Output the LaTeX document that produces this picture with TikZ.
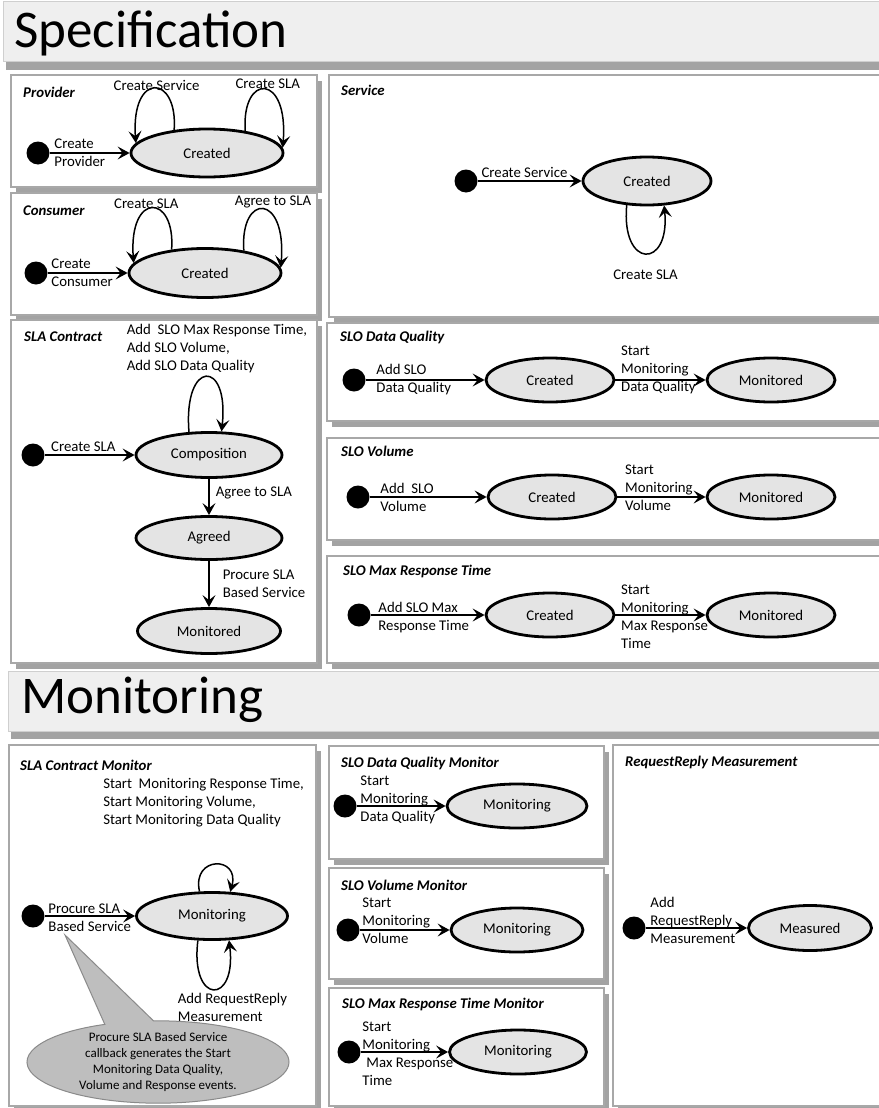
\documentclass[tikz,border=0pt]{standalone}
\usepackage{fontspec}
\setmainfont{Carlito}
\usepackage{tikz}
\usetikzlibrary{arrows.meta, positioning, shapes.geometric, shapes.callouts, shadows}
\definecolor{StateGray}{HTML}{E4E4E4}
\definecolor{PanelLine}{HTML}{A8A8A8}
\definecolor{BarFill}{HTML}{EFEFEF}
\definecolor{BarLine}{HTML}{CFCFCF}
\definecolor{NoteFill}{HTML}{BEBEBE}
\definecolor{NoteLine}{HTML}{8A8A8A}

\begin{document}
\begin{tikzpicture}[x=1pt, y=1pt,
    font=\fontsize{14.8}{18}\selectfont,
    panel/.style={draw=PanelLine, line width=1.5pt, fill=white,
        drop shadow={shadow xshift=5pt, shadow yshift=-6pt, fill=black!45, opacity=.8}},
    bar/.style={draw=BarLine, line width=1pt, fill=BarFill,
        drop shadow={shadow xshift=3pt, shadow yshift=-8pt, fill=black!45, opacity=.8}},
    bigtitle/.style={anchor=base west, inner sep=0pt, font=\fontsize{53}{60}\selectfont},
    head/.style={anchor=west, inner sep=0pt, font=\fontsize{14.8}{17}\selectfont\bfseries\itshape},
    state/.style={ellipse, draw, line width=2.8pt, fill=StateGray, inner sep=0pt},
    init/.style={circle, fill=black, minimum size=23pt, inner sep=0pt},
    trans/.style={line width=1.5pt, -{Stealth[length=12pt, width=13pt, inset=5pt]}},
    lbl/.style={align=left, inner sep=0pt},
    note/.style={ellipse callout, draw=NoteLine, line width=1pt, fill=NoteFill, align=center,
        inner sep=0pt, minimum width=262pt, minimum height=80pt, callout pointer arc=22,
        font=\fontsize{13}{15.7}\selectfont}]

    \useasboundingbox (0,0) rectangle (878,-1108);

    % Section bars
    \draw[bar] (3,-2) rectangle (884,-62);
    \node[bigtitle] (spectitle) at (14,-48) {Specification};
    \draw[bar] (8,-671) rectangle (884,-731);
    \node[bigtitle] (montitle) at (21,-713) {Monitoring};

    % Panels
    \draw[panel] (11,-75) rectangle (317,-187);
    \draw[panel] (11,-193) rectangle (317,-315);
    \draw[panel] (329,-75) rectangle (884,-317);
    \draw[panel] (11,-320) rectangle (317,-663);
    \draw[panel] (327,-323) rectangle (884,-421);
    \draw[panel] (327,-438) rectangle (884,-540);
    \draw[panel] (327,-556) rectangle (884,-663);
    \draw[panel] (9,-745) rectangle (316,-1106);
    \draw[panel] (329,-746) rectangle (604,-859);
    \draw[panel] (329,-868) rectangle (604,-979);
    \draw[panel] (329,-988) rectangle (604,-1106);
    \draw[panel] (613,-745) rectangle (884,-1106);

    % Provider
    \node[head] at (23,-92) {Provider};
    \node[init] (pi) at (38,-153) {};
    \node[state, minimum width=152pt, minimum height=48pt] (pc) at (207,-153) {Created};
    \draw[trans] (pi) -- node[lbl, pos=0, anchor=west, xshift=4pt] {Create\\Provider} (pc);
    \draw[trans] (pc.145) .. controls +(4,56) and +(-5,72) .. node[pos=.5, xshift=2pt, yshift=3pt] {Create Service} (pc.172);
    \draw[trans] (pc.30) .. controls +(-4,58) and +(6,75) .. node[pos=.5, xshift=3pt, yshift=6pt] {Create SLA} (pc.4);

    % Consumer
    \node[head] at (23,-211) {Consumer};
    \node[init] (ci) at (36,-273) {};
    \node[state, minimum width=152pt, minimum height=49pt] (cc) at (205,-273) {Created};
    \draw[trans] (ci) -- node[lbl, pos=0, anchor=west, xshift=3pt] {Create\\Consumer} (cc);
    \draw[trans] (cc.145) .. controls +(4,56) and +(-5,72) .. node[pos=.5, xshift=-6pt, yshift=5pt] {Create SLA} (cc.172);
    \draw[trans] (cc.30) .. controls +(-4,58) and +(6,75) .. node[pos=.5, xshift=10pt, yshift=7pt] {Agree to SLA} (cc.4);

    % Service
    \node[head] at (341,-90) {Service};
    \node[init] (si) at (466,-181) {};
    \node[state, minimum width=128pt, minimum height=48pt] (sc) at (647,-181) {Created};
    \draw[trans] (si) -- node[pos=.45, above=3pt, inner sep=0pt] {Create Service} (sc);
    \draw[trans] (sc.230) .. controls +(-6,-64) and +(6,-64) .. node[pos=.5, below=12pt] {Create SLA} (sc.305);

    % SLA Contract
    \node[head] at (24,-337) {SLA Contract};
    \node[init] (ki) at (33,-455) {};
    \node[state, minimum width=146pt, minimum height=45pt] (kcomp) at (209,-455) {Composition};
    \node[state, minimum width=146pt, minimum height=43pt] (kagr) at (209,-538) {Agreed};
    \node[state, minimum width=143pt, minimum height=45pt] (kmon) at (209,-631) {Monitored};
    \draw[trans] (ki) -- node[pos=.43, above=3pt, inner sep=0pt] {Create SLA} (kcomp);
    \draw[trans] (kcomp.131) .. controls +(-6,73) and +(8,73) .. node[lbl, pos=.5, above=3pt, xshift=11pt] {Add\ \ SLO Max Response Time,\\Add SLO Volume,\\Add SLO Data Quality} (kcomp.62);
    \draw[trans] (kcomp) -- node[lbl, pos=.4, anchor=west, xshift=6pt] {Agree to SLA} (kagr);
    \draw[trans] (kagr) -- node[lbl, pos=.5, anchor=west, xshift=13pt] {Procure SLA\\Based Service} (kmon);

    % SLO Data Quality
    \node[head] at (340,-337) {SLO Data Quality};
    \node[init] (qi) at (354,-380) {};
    \node[state, minimum width=128pt, minimum height=44pt] (qc) at (550,-380) {Created};
    \node[state, minimum width=128pt, minimum height=44pt] (qm) at (771,-380) {Monitored};
    \draw[trans] (qi) -- node[lbl, pos=0, anchor=west, xshift=10pt] {Add SLO\\Data Quality} (qc);
    \draw[trans] (qc) -- node[lbl, pos=0, anchor=west, xshift=5pt, yshift=10pt] {Start\\Monitoring\\Data Quality} (qm);

    % SLO Volume
    \node[head] at (341,-451) {SLO Volume};
    \node[init] (vi) at (358,-497) {};
    \node[state, minimum width=128pt, minimum height=44pt] (vc) at (552,-497) {Created};
    \node[state, minimum width=128pt, minimum height=44pt] (vm) at (771,-497) {Monitored};
    \draw[trans] (vi) -- node[lbl, pos=0, anchor=west, xshift=10pt] {Add\ \ SLO\\Volume} (vc);
    \draw[trans] (vc) -- node[lbl, pos=0, anchor=west, xshift=7pt, yshift=9pt] {Start\\Monitoring\\Volume} (vm);

    % SLO Max Response Time
    \node[head] at (343,-571) {SLO Max Response Time};
    \node[init] (mi) at (359,-615) {};
    \node[state, minimum width=128pt, minimum height=44pt] (mc) at (550,-615) {Created};
    \node[state, minimum width=128pt, minimum height=44pt] (mm) at (771,-615) {Monitored};
    \draw[trans] (mi) -- node[lbl, pos=0, anchor=west, xshift=7pt, yshift=-3pt] {Add SLO Max\\Response Time} (mc);
    \draw[trans] (mc) -- node[lbl, pos=0, anchor=west, xshift=5pt, yshift=-2pt] {Start\\Monitoring\\Max Response\\Time} (mm);

    % SLA Contract Monitor
    \node[head] at (20,-765) {SLA Contract Monitor};
    \node[init] (ai) at (33,-916) {};
    \node[state, minimum width=151pt, minimum height=47pt] (am) at (212,-916) {Monitoring};
    \draw[trans] (ai) -- node[lbl, pos=0, anchor=west, xshift=3pt, yshift=-2pt] {Procure SLA\\Based Service} (am);
    \draw[trans] (am.117) .. controls +(-8,36) and +(10,36) .. node[lbl, pos=.5, above=37pt, xshift=-12pt] {Start\ \ Monitoring Response Time,\\Start Monitoring Volume,\\Start Monitoring Data Quality} (am.53);
    \draw[trans] (am.240) .. controls +(-8,-65) and +(8,-65) .. node[lbl, pos=.5, below=3pt, xshift=19pt] {Add RequestReply\\Measurement} (am.305);
    \coordinate (tip) at (65,-935);
    \node[note, callout absolute pointer={(tip)}] (callout) at (158,-1062) {Procure SLA Based Service\\callback generates the Start\\Monitoring Data Quality,\\Volume and Response events.};

    % SLO Data Quality Monitor
    \node[head] at (341,-763) {SLO Data Quality Monitor};
    \node[init] (di) at (345,-806) {};
    \node[state, minimum width=140pt, minimum height=44pt] (dm) at (517,-806) {Monitoring};
    \draw[trans] (di) -- node[lbl, pos=0, anchor=west, xshift=3pt, yshift=6pt] {Start\\Monitoring\\Data Quality} (dm);

    % SLO Volume Monitor
    \node[head] at (341,-885) {SLO Volume Monitor};
    \node[init] (wi) at (348,-930) {};
    \node[state, minimum width=132pt, minimum height=44pt] (wm) at (517,-930) {Monitoring};
    \draw[trans] (wi) -- node[lbl, pos=0, anchor=west, xshift=2pt, yshift=9.5pt] {Start\\Monitoring\\Volume} (wm);

    % SLO Max Response Time Monitor
    \node[head] at (342,-1004) {SLO Max Response Time Monitor};
    \node[init] (xi) at (349,-1052) {};
    \node[state, minimum width=137pt, minimum height=44pt] (xm) at (518,-1052) {Monitoring};
    \draw[trans] (xi) -- node[lbl, pos=0, anchor=west, xshift=1pt, yshift=-1.5pt] {Start\\Monitoring\\\hspace*{4pt}Max Response\\Time} (xm);

    % RequestReply Measurement
    \node[head] at (625,-762) {RequestReply Measurement};
    \node[init] (ri) at (634,-928) {};
    \node[state, minimum width=123pt, minimum height=45pt] (rm) at (810,-928) {Measured};
    \draw[trans] (ri) -- node[lbl, pos=0, anchor=west, xshift=4pt, yshift=8pt] {Add\\RequestReply\\Measurement} (rm);
\end{tikzpicture}
\end{document}
